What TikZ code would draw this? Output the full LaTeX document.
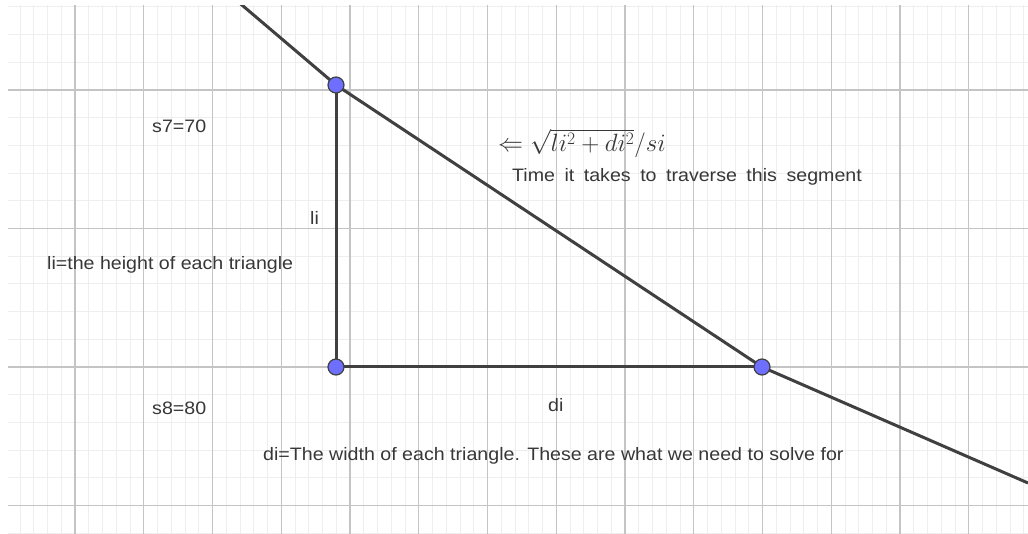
\RequirePackage{fix-cm}
\documentclass[tikz,border=0pt]{standalone}
\usepackage{amsmath}
\usepackage{fontspec}
\newfontfamily\ggbfont[FakeStretch=1.09]{Liberation Sans}
\usepackage{tikz}
\usetikzlibrary{arrows.meta}

\definecolor{ptblue}{RGB}{110,110,255}
\definecolor{segdark}{RGB}{64,64,64}
\definecolor{gridmajor}{RGB}{196,196,196}
\definecolor{gridminor}{RGB}{238,238,238}
\definecolor{txtdark}{RGB}{55,55,55}

\tikzset{
  minorline/.style={gridminor, line width=1pt},
  majorline/.style={gridmajor, line width=1.4pt},
  seg/.style={segdark, line width=3pt},
  pt/.style={circle, draw=segdark, fill=ptblue, line width=1.2pt, inner sep=0pt, minimum size=16pt},
  lbl/.style={inner sep=0pt, text=txtdark, font=\ggbfont\fontsize{18}{21}\selectfont},
}

\begin{document}
\begin{tikzpicture}[>=Latex, x=1pt, y=-1pt]
    \useasboundingbox (0,0) rectangle (1028,534);
    \begin{scope}
    \clip (8,6) rectangle (1028,534);
    % grid
    \foreach \k in {0,...,74}
        \draw[minorline] ({6.25+13.75*\k},0) -- ({6.25+13.75*\k},534);
    \foreach \k in {0,...,19}
        \draw[minorline] (0,{6.9+27.7*\k}) -- (1028,{6.9+27.7*\k});
    \foreach \k in {0,...,14}
        \draw[majorline] ({6.25+68.75*\k},0) -- ({6.25+68.75*\k},534);
    \foreach \k in {0,...,3}
        \draw[majorline] (0,{90+138.5*\k}) -- (1028,{90+138.5*\k});
    % path and triangle
    \coordinate (top) at (236,0);
    \coordinate (a) at (336,85);
    \coordinate (b) at (336,367);
    \coordinate (c) at (762,367);
    \coordinate (exit) at (1028,483);
    \draw[seg] (top) -- (a);
    \draw[seg] (a) -- (c);
    \draw[seg] (c) -- (exit);
    \draw[seg] (a) -- (b);
    \draw[seg] (b) -- (c);
    \node[pt] (A) at (a) {};
    \node[pt] (B) at (b) {};
    \node[pt] (C) at (c) {};
    \end{scope}
    % labels
    \node[lbl, anchor=base west] (s7) at (152,133) {s7=70};
    \node[lbl, anchor=base west] (s8) at (152,414) {s8=80};
    \node[lbl, anchor=base west] (li) at (310,225) {li};
    \node[lbl, anchor=base west] (lidef) at (47,270) {li=the height of each triangle};
    \node[lbl, anchor=base west] (di) at (548,411) {di};
    \node[lbl, anchor=base west] (didef) at (263,460) {di=The width of each triangle. These are what we need to solve for};
    \node[inner sep=0pt, text=txtdark, anchor=base west, font=\fontsize{25}{29}\selectfont] (time) at (498,152) {$\Leftarrow \sqrt{li^2+di^2}/si$};
    \node[lbl, anchor=base west] (timetxt) at (512,182) {\spaceskip=9.5pt Time it takes to traverse this segment};
\end{tikzpicture}
\end{document}
